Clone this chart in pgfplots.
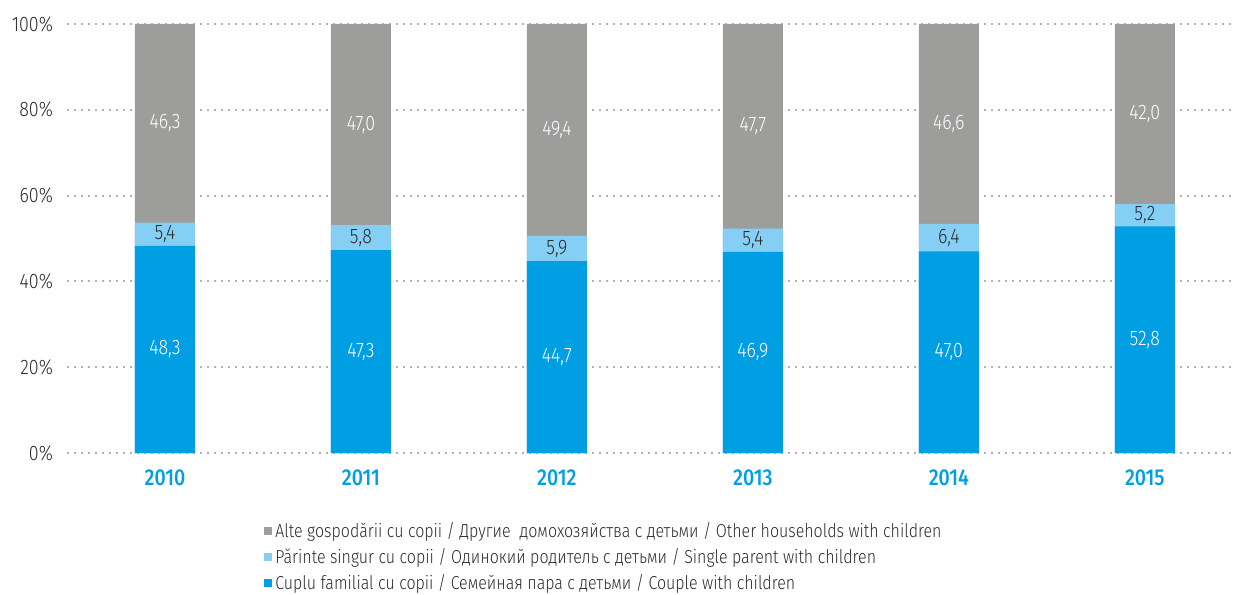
\documentclass[border=0pt]{standalone}
\usepackage{pgfplots}
\pgfplotsset{compat=1.18}
\usepackage{fontspec}
\setmainfont{Fira Sans}[UprightFont=* Light, BoldFont=* Medium, FakeStretch=0.85]

\definecolor{cblue}{HTML}{009FE3}
\definecolor{clight}{HTML}{86CFF4}
\definecolor{cgray}{HTML}{9D9D9C}
\definecolor{ctext}{HTML}{2B2B2B}

\begin{document}
\begin{tikzpicture}
\begin{axis}[
    width=583pt, height=214.5pt, scale only axis,
    xmin=-0.5, xmax=5.45, ymin=0, ymax=100,
    ybar, bar width=30pt, bar shift=0pt,
    axis line style={draw=none}, major tick length=0pt,
    xtick={0,...,5}, xticklabels={2010,2011,2012,2013,2014,2015},
    xticklabel style={font=\bfseries\fontsize{11.5}{13}\selectfont, text=cblue, yshift=-5pt},
    ytick={0,20,...,100},
    yticklabel={\pgfmathprintnumber[fixed, fixed zerofill=false, precision=0]{\tick}\%},
    yticklabel style={font=\fontsize{10.5}{12}\selectfont, text=ctext, xshift=-3.5pt},
    /pgf/number format/assume math mode=true,
    ymajorgrids,
    grid style={line width=1pt, color=black!30, dash pattern=on 1pt off 2.5pt},
    legend style={at={(0.1638,-0.144)}, anchor=north west, draw=none, fill=none,
        font=\fontsize{9.4}{11}\selectfont, text=ctext, row sep=1pt,
        nodes={inner sep=1.5pt}},
    legend cell align=left,
    /pgf/number format/.cd, use comma, fixed, fixed zerofill, precision=1,
]
\addplot[fill=cgray, draw=none, legend image code/.code={\fill[cgray] (0pt,-2pt) rectangle (4pt,2pt);}]
    coordinates {(0,100) (1,100) (2,100) (3,100) (4,100) (5,100)};
\addlegendentry{Alte gospodării cu copii / Другие\ \ домохозяйства с детьми / Other households with children}
\addplot[fill=clight, draw=none, legend image code/.code={\fill[clight] (0pt,-2pt) rectangle (4pt,2pt);}]
    coordinates {(0,53.7) (1,53.1) (2,50.6) (3,52.3) (4,53.4) (5,58.0)};
\addlegendentry{Părinte singur cu copii / Одинокий родитель с детьми / Single parent with children}
\addplot[fill=cblue, draw=none, legend image code/.code={\fill[cblue] (0pt,-2pt) rectangle (4pt,2pt);}]
    coordinates {(0,48.3) (1,47.3) (2,44.7) (3,46.9) (4,47.0) (5,52.8)};
\addlegendentry{Cuplu familial cu copii / Семейная пара с детьми / Couple with children}

% segment labels, placed at the middle of each segment
\addplot[only marks, mark=none, forget plot, nodes near coords, point meta=explicit,
    nodes near coords style={anchor=center, text=white, font=\fontsize{10.5}{12}\selectfont}]
    coordinates {(0,76.85)[46.3] (1,76.5)[47.0] (2,75.3)[49.4] (3,76.15)[47.7] (4,76.7)[46.6] (5,79.0)[42.0]};
\addplot[only marks, mark=none, forget plot, nodes near coords, point meta=explicit,
    nodes near coords style={anchor=center, text=ctext, font=\fontsize{10.5}{12}\selectfont}]
    coordinates {(0,51.0)[5.4] (1,50.2)[5.8] (2,47.65)[5.9] (3,49.6)[5.4] (4,50.2)[6.4] (5,55.4)[5.2]};
\addplot[only marks, mark=none, forget plot, nodes near coords, point meta=explicit,
    nodes near coords style={anchor=center, text=white, font=\fontsize{10.5}{12}\selectfont}]
    coordinates {(0,24.15)[48.3] (1,23.65)[47.3] (2,22.35)[44.7] (3,23.45)[46.9] (4,23.5)[47.0] (5,26.4)[52.8]};
\end{axis}
\pgfresetboundingbox
\path[use as bounding box] ([xshift=-33.5pt,yshift=-70.5pt]current axis.south west)
    rectangle ([yshift=12pt]current axis.north east);
\end{tikzpicture}
\end{document}
